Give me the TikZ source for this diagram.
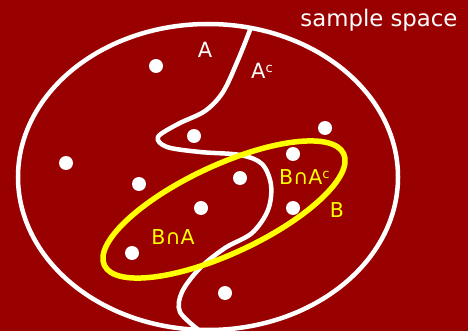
\documentclass[tikz,border=0pt]{standalone}
\usepackage{fontspec}
\setmainfont{DejaVu Sans}
\definecolor{bgred}{HTML}{990000}
\definecolor{yel}{HTML}{FFFF00}
\tikzset{
  dot/.style={circle,fill=white,inner sep=0pt,minimum size=14pt},
  wlab/.style={text=white,font=\fontsize{21}{21}\selectfont,inner sep=0pt},
  ylab/.style={text=yel,font=\fontsize{20.5}{20.5}\selectfont,inner sep=0pt},
}
\newcommand{\supc}{\raisebox{0.55ex}{\fontsize{13}{13}\selectfont c}}
\begin{document}
\begin{tikzpicture}[x=1pt,y=-1pt]
\fill[bgred] (0,0) rectangle (468,331);
\useasboundingbox (0,0) rectangle (468,331);
% sample space ellipse
\draw[white,line width=4.5pt] (208,177) ellipse [x radius=190, y radius=153];
% boundary of A
\draw[white,line width=4.5pt,line cap=round] plot[smooth,tension=0.55] coordinates {
 (250,30) (238,60) (223,92) (205,111) (178,124) (158,137) (167,147) (200,152) (240,155) (262,164) (271,185) (268,210) (252,233) (225,248) (200,268) (182,292) (180,312) (200,331)};
% B ellipse
\draw[yel,line width=5.5pt,rotate around={25:(224,209.5)}] (224,209.5) ellipse [x radius=132, y radius=44];
% points
\foreach \p/\q [count=\i] in {156/66,194/136,325/128,66/163,139/184,293/154,240/178,201/208,293/208,132/253,225/293}
  \node[dot] (p\i) at (\p,\q) {};
% labels
\node[wlab,font=\fontsize{22.8}{22.8}\selectfont] (ss) at (379,20) {sample space};
\node[wlab] (la) at (205,50) {A};
\node[wlab,anchor=west] (lac) at (251,71) {A\supc};
\node[ylab,anchor=west] (lbac) at (279,177) {B∩A\supc};
\node[ylab] (lb) at (337,210) {B};
\node[ylab] (lba) at (173,237) {B∩A};
\end{tikzpicture}
\end{document}
